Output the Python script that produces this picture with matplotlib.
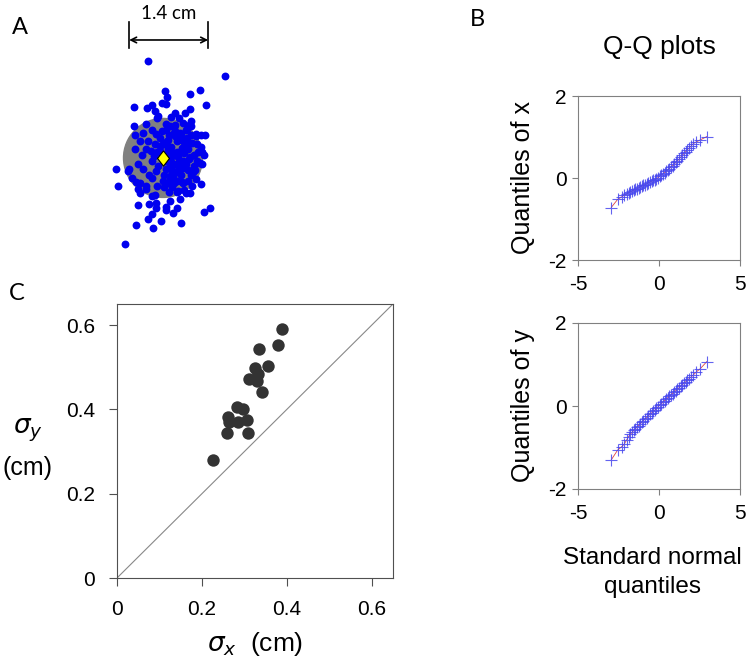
import matplotlib.pyplot as plt
from matplotlib.patches import Circle
from matplotlib.path import Path

plt.rcParams['font.family'] = ['Liberation Sans', 'DejaVu Sans']
plt.rcParams['axes.unicode_minus'] = False

# panel A: endpoint positions relative to target centre (cm)
endpoints_x = [-0.27, 1.10, 0.04, 0.07, 0.65, 0.47, 0.77, -0.52, -0.29, -0.20, -0.15, -0.02,
               0.05, 0.47, 0.22, 0.39, -0.09, -0.52, 0.49, 0.59, 0.67, 0.75, -0.83, -0.80,
               -0.62, 0.69, 0.65, 0.59, 0.68, 0.53, -0.41, -0.44, -0.25, -0.13, -0.13, 0.06,
               0.12, 0.24, 0.05, 0.30, 0.40, 0.47, 0.72, 0.84, -0.20, -0.27, -0.04, -0.47,
               -0.17, 0.32, -0.67, 0.18, -0.19, -0.30, -0.47, 0.38,
               0.00, 0.10, -0.10, 0.20, -0.20, 0.05, 0.15, -0.15, 0.30, 0.25, -0.30, -0.05,
               0.10, 0.35, -0.25, 0.00, 0.20, -0.10, 0.40, 0.45, 0.50, -0.40, -0.45, 0.30,
               0.20, -0.20, 0.05, 0.55, 0.60, -0.35, 0.35, 0.10, -0.30, 0.40, -0.50, 0.25,
               0.08, -0.08, 0.18, 0.30, -0.12, 0.42, 0.50, 0.55, 0.62, -0.55, -0.60, -0.40,
               0.15, 0.32, 0.00, -0.05, 0.12, -0.22, 0.22, 0.36, 0.50, 0.28, 0.14, -0.10,
               0.45, 0.52, -0.20, -0.35, 0.60, 0.70, 0.68, 0.72, -0.45, -0.15, 0.25, -0.50,
               -0.30, 0.38, 0.05, -0.38,
               0.04, 0.14, 0.24, 0.34, 0.44, -0.06, 0.18, 0.28, 0.38, 0.08, 0.22, 0.32,
               0.42, 0.12, 0.02, 0.26, 0.36, 0.16, 0.06, 0.46, 0.30, 0.20, 0.10, 0.40,
               -0.02, 0.24, 0.34, 0.14, 0.44, 0.28, 0.18, 0.08, 0.38, 0.48, 0.22, 0.12,
               -0.12, -0.16, -0.26, 0.02, 0.16, 0.26, 0.36, 0.06, 0.56, 0.52, 0.58, 0.46]
endpoints_y = [1.71, 1.46, 1.18, 1.08, 1.21, 1.13, 0.93, 0.90, 0.88, 0.93, 0.84, 0.98,
               0.96, 0.86, 0.80, 0.79, 0.75, 0.57, 0.56, 0.43, 0.41, 0.40, -0.20, -0.50,
               -0.24, 0.10, -0.09, -0.38, -0.46, -0.25, -0.62, -0.83, -0.81, -0.80, -0.89, -0.87,
               -0.77, -0.89, -0.93, -0.72, -0.63, -0.62, -0.96, -0.89, -0.99, -1.09, -1.11, -1.19,
               -1.24, -1.16, -1.52, -0.98, -0.68, -0.50, -0.43, -0.56,
               0.00, 0.05, 0.10, -0.10, -0.05, -0.20, 0.20, 0.25, 0.10, -0.25, 0.15, 0.35,
               0.40, 0.30, -0.30, -0.40, -0.45, -0.50, -0.10, 0.15, -0.30, 0.30, -0.10, 0.45,
               0.55, 0.50, 0.60, 0.05, 0.25, 0.45, -0.45, -0.60, -0.55, 0.50, 0.15, 0.30,
               0.18, -0.15, 0.08, -0.05, 0.42, 0.35, 0.40, -0.15, 0.10, -0.35, -0.20, -0.45,
               -0.30, -0.30, 0.25, 0.12, -0.12, 0.12, 0.38, 0.62, 0.65, 0.70, 0.72, 0.70,
               -0.40, -0.50, -0.35, -0.20, -0.05, -0.10, 0.20, 0.05, -0.55, -0.65, -0.60, 0.40,
               0.60, 0.20, 0.50, 0.05,
               -0.06, 0.02, 0.10, 0.18, 0.26, 0.22, -0.28, -0.18, -0.08, 0.32, 0.48, 0.40,
               0.52, -0.38, -0.30, 0.02, -0.18, -0.22, 0.28, -0.02, 0.34, 0.44, -0.44, 0.26,
               0.48, -0.40, -0.42, -0.08, -0.22, -0.08, -0.34, 0.14, 0.08, 0.02, 0.58, 0.56,
               -0.24, 0.04, 0.30, -0.52, -0.52, -0.58, -0.06, 0.24, -0.22, 0.26, 0.38, 0.58]
target_radius = 0.7
scale_bar = [-0.6, 0.8]

# panel B: Q-Q data
qq_theory = [-2.95, -2.55, -2.3, -2.15, -2.0, -1.88, -1.77, -1.66, -1.56, -1.46, -1.36, -1.26,
             -1.16, -1.06, -0.96, -0.86, -0.76, -0.66, -0.56, -0.46, -0.36, -0.26, -0.16, -0.06,
             0.04, 0.14, 0.24, 0.34, 0.44, 0.54, 0.64, 0.74, 0.84, 0.94, 1.04, 1.14,
             1.24, 1.34, 1.44, 1.54, 1.64, 1.75, 1.86, 1.98, 2.12, 2.3, 2.55, 2.95]
qq_x = [-0.72, -0.52, -0.46, -0.42, -0.39, -0.36, -0.34, -0.32, -0.30, -0.28, -0.26, -0.24,
        -0.22, -0.20, -0.18, -0.16, -0.14, -0.12, -0.10, -0.08, -0.06, -0.04, -0.02, 0.01,
        0.04, 0.07, 0.10, 0.13, 0.16, 0.20, 0.23, 0.27, 0.30, 0.34, 0.38, 0.42,
        0.46, 0.51, 0.55, 0.60, 0.64, 0.69, 0.73, 0.78, 0.84, 0.88, 0.93, 1.01]
qq_y = [-1.30, -1.06, -0.98, -0.92, -0.82, -0.74, -0.68, -0.63, -0.59, -0.55, -0.51, -0.47,
        -0.43, -0.39, -0.35, -0.31, -0.28, -0.24, -0.20, -0.17, -0.13, -0.10, -0.06, -0.02,
        0.02, 0.05, 0.09, 0.13, 0.16, 0.20, 0.23, 0.27, 0.30, 0.34, 0.37, 0.41,
        0.44, 0.48, 0.51, 0.55, 0.58, 0.62, 0.66, 0.70, 0.75, 0.82, 0.90, 1.07]

# panel C: per-subject SDs (cm)
sigma_x = [0.389, 0.379, 0.335, 0.355, 0.325, 0.333, 0.311, 0.329, 0.341, 0.282,
           0.296, 0.262, 0.264, 0.285, 0.305, 0.258, 0.309, 0.225]
sigma_y = [0.590, 0.553, 0.543, 0.502, 0.499, 0.483, 0.473, 0.467, 0.442, 0.406,
           0.402, 0.383, 0.370, 0.371, 0.374, 0.345, 0.345, 0.280]

W, H = 752, 669
fig = plt.figure(figsize=(W / 100, H / 100), dpi=100)


def rect(x0, y0, x1, y1):
    return [x0 / W, 1 - y1 / H, (x1 - x0) / W, (y1 - y0) / H]


# ---- A
axA = fig.add_axes(rect(60, 5, 266, 255))
axA.set_xlim(-1.826, 1.826)
axA.set_ylim(-1.72, 2.71)
axA.axis('off')
axA.add_patch(Circle((0, 0), target_radius, color='#808080', zorder=1))
axA.scatter(endpoints_x, endpoints_y, s=32, color='#0000ee', zorder=2, linewidths=0)
diamond = Path([(0, 1), (0.78, 0), (0, -1), (-0.78, 0), (0, 1)])
axA.plot([0], [0], marker=diamond, markersize=11, color='#ffff00', mec='black', mew=0.8, zorder=3)
axA.annotate('', xy=(scale_bar[1], 2.09), xytext=(scale_bar[0], 2.09),
             arrowprops=dict(arrowstyle='<->', lw=1.2, color='black', shrinkA=0, shrinkB=0),
             annotation_clip=False)
for xb in scale_bar:
    axA.plot([xb, xb], [1.95, 2.41], color='black', lw=1.2, clip_on=False)
axA.text(sum(scale_bar) / 2, 2.56, '1.4 cm', ha='center', va='center', fontsize=13.5,
         family=['Lato', 'DejaVu Sans'])

# ---- B
def qq_axes(r, qs, label):
    ax = fig.add_axes(r)
    ax.plot(qq_theory, qs, color='#e04040', lw=0.6, zorder=1)
    ax.plot(qq_theory, qs, ls='none', marker='+', markersize=9, mew=0.8, color='#4848ee',
            alpha=0.85, zorder=2)
    ax.set_xlim(-5, 5)
    ax.set_ylim(-2, 2)
    ax.set_xticks([-5, 0, 5])
    ax.set_yticks([-2, 0, 2])
    for s in ax.spines.values():
        s.set_color('#808080')
    ax.tick_params(color='#808080', length=4, labelsize=15, pad=4)
    ax.tick_params(axis='x', pad=7)
    ax.set_ylabel(label, fontsize=18, labelpad=10)
    return ax


axB1 = qq_axes(rect(578, 96, 740, 260), qq_x, 'Quantiles of x')
axB2 = qq_axes(rect(578, 323, 740, 489), qq_y, 'Quantiles of y')
axB2.set_xlabel('Standard normal\nquantiles', fontsize=17.5, linespacing=1.4)
axB2.xaxis.set_label_coords(0.46, -0.35)
axB2.xaxis.label.set_va('top')
fig.text(659 / W, 1 - 47 / H, 'Q-Q plots', ha='center', va='center', fontsize=19)

# ---- C
axC = fig.add_axes(rect(117, 304, 393, 578))
axC.axline((0, 0), slope=1, color='#888888', lw=0.8, zorder=1)
axC.scatter(sigma_x, sigma_y, s=80, color='#333333', linewidths=0, zorder=2)
axC.set_xlim(0, 0.65)
axC.set_ylim(0, 0.65)
axC.set_xticks([0, 0.2, 0.4, 0.6])
axC.set_yticks([0, 0.2, 0.4, 0.6])
axC.set_xticklabels(['0', '0.2', '0.4', '0.6'])
axC.set_yticklabels(['0', '0.2', '0.4', '0.6'])
for s in axC.spines.values():
    s.set_color('#505050')
axC.tick_params(color='#505050', length=6, labelsize=15, pad=10)
axC.set_xlabel(r'$\sigma_x$  (cm)', fontsize=19, labelpad=8)
fig.text(28 / W, 1 - 430 / H, r'$\sigma_y$', ha='center', va='center', fontsize=19)
fig.text(28 / W, 1 - 468 / H, '(cm)', ha='center', va='center', fontsize=18)

for lab, x, y in [('A', 20, 28), ('B', 477, 20), ('C', 17, 294)]:
    fig.text(x / W, 1 - y / H, lab, ha='center', va='center', fontsize=17,
             family=['Lato', 'DejaVu Sans'])

fig.savefig('out.png', dpi=100)
